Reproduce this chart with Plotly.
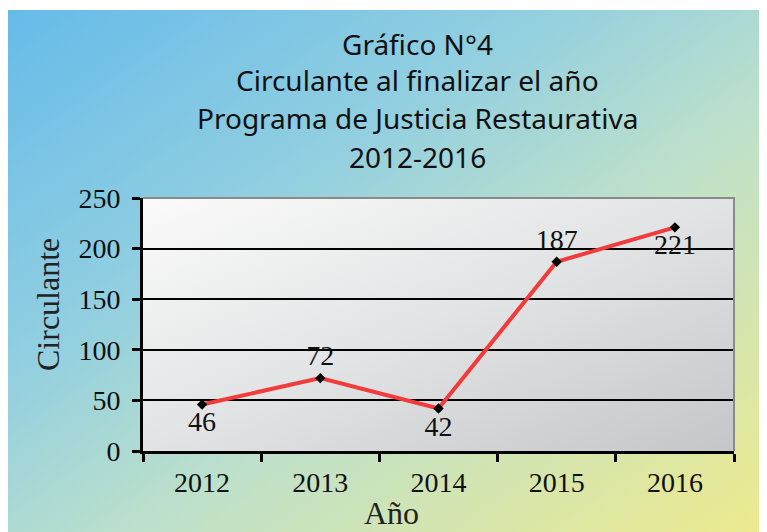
import base64
import plotly.graph_objects as go

# ---- data ----
years = ["2012", "2013", "2014", "2015", "2016"]
circulante = [46, 72, 42, 187, 221]
label_positions = ["bottom center", "top center", "bottom center", "top center", "bottom center"]
title_lines = ["Gráfico N°4", "Circulante al finalizar el año",
               "Programa de Justicia Restaurativa", "2012-2016"]
y_ticks = [0, 50, 100, 150, 200, 250]

# page is shown with an 8px body margin; lay out in page pixels
O = 8
W, H = 767 - O, 532 - O
L, R, T, B = 143 - O, 33, 198 - O, 81
PW, PH = W - L - R, H - T - B


def px(xp):
    return (xp - O - L) / PW


def py(yp):
    return (H + O - B - yp) / PH


def svg_uri(stops, x2=1, y2=1):
    st = "".join(f"<stop offset='{o}' stop-color='{c}'/>" for o, c in stops)
    svg = ("<svg xmlns='http://www.w3.org/2000/svg' width='400' height='300' preserveAspectRatio='none' viewBox='0 0 400 300'>"
           f"<defs><linearGradient id='g' x1='0' y1='0' x2='{x2}' y2='{y2}'>{st}</linearGradient></defs>"
           "<rect x='0' y='0' width='400' height='300' fill='url(#g)'/></svg>")
    return "data:image/svg+xml;base64," + base64.b64encode(svg.encode()).decode()


bg_uri = svg_uri([(0, "#66bbea"), (0.35, "#92cfe0"), (0.6, "#bfe1ca"), (1, "#eeea8e")])
plot_uri = svg_uri([(0, "#fbfbfb"), (0.5, "#e2e3e4"), (1, "#c4c6c9")])

serif = "Liberation Serif, Times New Roman, serif"

fig = go.Figure()
fig.add_trace(go.Scatter(
    x=years, y=circulante, mode="lines+markers+text",
    text=[str(v) for v in circulante], textposition=label_positions,
    line=dict(color="#f23b3b", width=4),
    marker=dict(symbol="diamond", size=8, color="black"),
    textfont=dict(family=serif, size=28, color="#111"),
    cliponaxis=False, hoverinfo="skip",
))

fig.update_layout(
    width=W, height=H,
    margin=dict(l=L, r=R, t=T, b=B, pad=0),
    paper_bgcolor="white", plot_bgcolor="rgba(0,0,0,0)",
    showlegend=False,
    xaxis=dict(type="category", range=[-0.5, 4.5], tickson="boundaries",
               ticks="outside", ticklen=8, tickwidth=2.5, tickcolor="black",
               showline=True, linecolor="black", linewidth=3,
               showgrid=False, zeroline=False,
               tickfont=dict(family=serif, size=28, color="#111"),
               ticklabelstandoff=4, fixedrange=True),
    yaxis=dict(range=[0, 250], tickvals=y_ticks,
               ticks="outside", ticklen=8, tickwidth=2.5, tickcolor="black",
               showline=True, linecolor="black", linewidth=3,
               showgrid=True, gridcolor="black", gridwidth=2, zeroline=False,
               tickfont=dict(family=serif, size=28, color="#111"),
               ticklabelstandoff=6, fixedrange=True),
    images=[
        dict(source=bg_uri, xref="paper", yref="paper", x=px(5), y=py(10),
             sizex=(767 - 5) / PW, sizey=(532 - 10) / PH, sizing="stretch",
             xanchor="left", yanchor="top", layer="below"),
        dict(source=plot_uri, xref="paper", yref="paper", x=0, y=1,
             sizex=1, sizey=1, sizing="stretch",
             xanchor="left", yanchor="top", layer="below"),
    ],
    shapes=[
        dict(type="path", xref="paper", yref="paper", path="M 0 1 L 1 1 L 1 0",
             line=dict(color="#8a8a8a", width=2), layer="above"),
    ],
)

title_y = [44, 80, 118, 157]
for t, yy in zip(title_lines, title_y):
    fig.add_annotation(text=t, xref="paper", yref="paper", x=px(417), y=py(yy),
                       showarrow=False, xanchor="center", yanchor="middle",
                       font=dict(family="Noto Sans, Open Sans, sans-serif", size=28, color="#111"))

fig.add_annotation(text="Circulante", xref="paper", yref="paper", x=px(48), y=py(305),
                   textangle=-90, showarrow=False, xanchor="center", yanchor="middle",
                   font=dict(family=serif, size=32, color="#222"))
fig.add_annotation(text="Año", xref="paper", yref="paper", x=px(391), y=py(513),
                   showarrow=False, xanchor="center", yanchor="middle",
                   font=dict(family=serif, size=32, color="#222"))

fig.write_html("out.html")
